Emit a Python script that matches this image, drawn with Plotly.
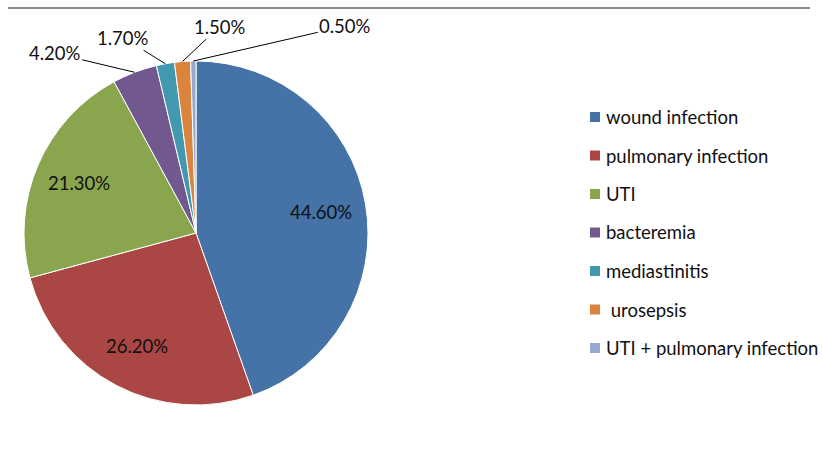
import math
import plotly.graph_objects as go

labels = ["wound infection", "pulmonary infection", "UTI", "bacteremia",
          "mediastinitis", " urosepsis", "UTI + pulmonary infection"]
values = [44.6, 26.2, 21.3, 4.2, 1.7, 1.5, 0.5]
colors = ["#4572A7", "#AA4643", "#89A54E", "#71588F", "#4198AF", "#DB843D", "#93A9CF"]
pct_text = ["44.60%", "26.20%", "21.30%", "4.20%", "1.70%", "1.50%", "0.50%"]

W, H = 822, 454
CX, CY, R = 196, 233, 172  # pie centre / radius in pixels
FONT = "Lato, 'Open Sans', sans-serif"
TXT = "#111111"

fig = go.Figure(go.Pie(
    labels=labels, values=values, textinfo="none",
    sort=False, direction="clockwise", rotation=0,
    marker=dict(colors=colors, line=dict(color="white", width=1)),
    domain=dict(x=[(CX - R) / W, (CX + R) / W], y=[(H - CY - R) / H, (H - CY + R) / H]),
    showlegend=False, hoverinfo="label+percent",
))

# percentage labels: large slices inside, small slices with leader lines
offsets = {3: (-80, -19), 4: (-42, -26), 5: (37, -35), 6: (152, -35)}
total = sum(values)
cum = 0.0
annotations = []
for i, v in enumerate(values):
    mid = (cum + v / 2) / total * 2 * math.pi
    cum += v
    if i in offsets:
        px = CX + R * math.sin(mid)
        py = CY - R * math.cos(mid)
        ax, ay = offsets[i]
        annotations.append(dict(
            x=px / W, y=(H - py) / H, xref="paper", yref="paper",
            text=pct_text[i], showarrow=True, arrowhead=0, arrowwidth=1,
            arrowcolor="#000000", ax=ax, ay=ay, standoff=0,
            font=dict(family=FONT, size=18.5, color=TXT),
        ))
    else:
        rr = 0.74 * R
        px = CX + rr * math.sin(mid)
        py = CY - rr * math.cos(mid)
        annotations.append(dict(
            x=px / W, y=(H - py) / H, xref="paper", yref="paper",
            text=pct_text[i], showarrow=False, xanchor="center", yanchor="middle",
            font=dict(family=FONT, size=18.5, color=TXT),
        ))

# manual legend
leg_x, leg_y0, leg_dy = 590, 117, 38.5
shapes = [dict(type="line", xref="paper", yref="paper", x0=8 / W, x1=810 / W,
               y0=(H - 8) / H, y1=(H - 8) / H, line=dict(color="#8c8c8c", width=2))]
for i, (lab, col) in enumerate(zip(labels, colors)):
    yc = leg_y0 + i * leg_dy
    shapes.append(dict(type="rect", xref="paper", yref="paper",
                       x0=leg_x / W, x1=(leg_x + 10) / W,
                       y0=(H - yc - 5) / H, y1=(H - yc + 5) / H,
                       fillcolor=col, line=dict(width=0)))
    annotations.append(dict(x=(leg_x + 14) / W, y=(H - yc) / H, xref="paper", yref="paper",
                            text=lab, showarrow=False, xanchor="left", yanchor="middle",
                            font=dict(family=FONT, size=18.5, color=TXT)))

fig.update_layout(
    width=W, height=H, margin=dict(l=0, r=0, t=0, b=0),
    paper_bgcolor="white", plot_bgcolor="white",
    shapes=shapes, annotations=annotations,
)
fig.write_html("out.html", config={"displayModeBar": False},
               post_script="document.body.style.margin='0px';")
